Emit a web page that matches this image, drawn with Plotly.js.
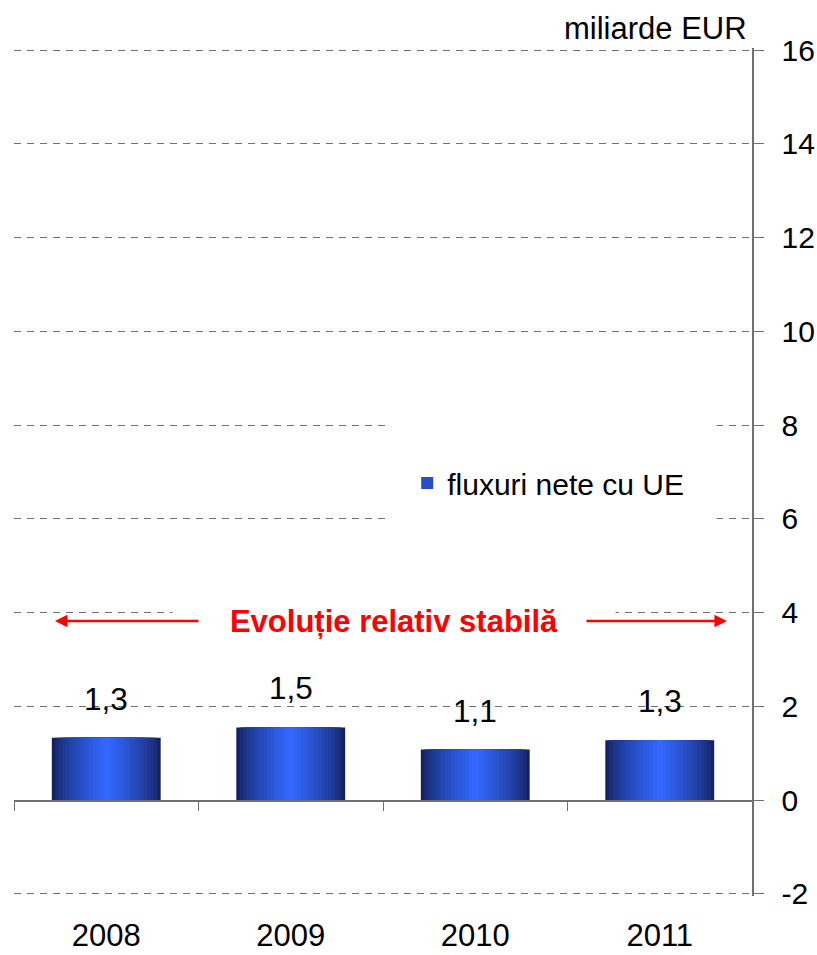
<!DOCTYPE html>
<html><head><meta charset="utf-8">
<script src="https://cdn.plot.ly/plotly-3.0.1.min.js"></script>
<style>html,body{margin:0;padding:0;background:#fff}</style>
</head><body>
<div id="chart" style="width:817px;height:955px"></div>
<script>
const years = ['2008', '2009', '2010', '2011'];
const netFlows = [1.33, 1.55, 1.08, 1.28];
const valueLabels = ['1,3', '1,5', '1,1', '1,3'];
const yTickVals = [-2, 0, 2, 4, 6, 8, 10, 12, 14, 16];
const yTickText = ['-2', '0', '2', '4', '6', '8', '10', '12', '14', '16'];
const unitLabel = 'miliarde EUR';
const seriesName = 'fluxuri nete cu UE';
const noteText = 'Evoluție relativ stabilă';

const FONT = '"Liberation Sans", Arial, sans-serif';
const GREY = '#707070';

// stepped horizontal gradient: overlay narrower, lighter bars
const N = 16, fullW = 0.59;
const dark = [20, 34, 95], bright = [50, 102, 252];
const traces = [];
for (let k = 0; k < N; k++) {
  const t = Math.pow(k / (N - 1), 0.7);
  const c = dark.map((d, i) => Math.round(d + (bright[i] - d) * t));
  traces.push({
    type: 'bar', x: years, y: netFlows,
    width: years.map(() => fullW * (1 - k / N)),
    marker: {color: `rgb(${c.join(',')})`, line: {width: 0}},
    name: seriesName,
    showlegend: k === Math.round(N * 0.5),
    hoverinfo: 'skip'
  });
}
// helper trace so the boundary-tick axis at y=0 exists
traces.push({type: 'scatter', mode: 'markers', x: years, y: netFlows, xaxis: 'x2',
  marker: {opacity: 0}, showlegend: false, hoverinfo: 'skip'});

const yMin = -2, yMax = 16, pad = 0.045;
const annotations = years.map((yr, i) => ({
  x: i, y: netFlows[i], xref: 'x', yref: 'y', text: valueLabels[i],
  showarrow: false, yshift: 39, yanchor: 'middle',
  font: {family: FONT, size: 31.5, color: '#000'}
}));
annotations.push({
  x: 1, y: 1, xref: 'paper', yref: 'paper', xanchor: 'right', yanchor: 'middle',
  xshift: -3, yshift: 20, text: unitLabel, showarrow: false,
  font: {family: FONT, size: 31, color: '#000'}
});
annotations.push({
  x: 1.56, y: 3.82, xref: 'x', yref: 'y', xanchor: 'center', yanchor: 'middle',
  text: '<b>' + noteText + '</b>', showarrow: false, bgcolor: '#fff', width: 440,
  font: {family: FONT, size: 31, color: '#ff0000'}
});
annotations.push({
  x: -0.278, y: 3.82, ax: 0.508, ay: 3.82, xref: 'x', yref: 'y', axref: 'x', ayref: 'y',
  text: '', showarrow: true, arrowhead: 2, arrowsize: 1, arrowwidth: 2.5, arrowcolor: '#ff0000'
});
annotations.push({
  x: 3.364, y: 3.82, ax: 2.595, ay: 3.82, xref: 'x', yref: 'y', axref: 'x', ayref: 'y',
  text: '', showarrow: true, arrowhead: 2, arrowsize: 1, arrowwidth: 2.5, arrowcolor: '#ff0000'
});

const layout = {
  width: 817, height: 955,
  margin: {l: 14, r: 65, t: 48, b: 59},
  paper_bgcolor: '#fff', plot_bgcolor: '#fff',
  barmode: 'overlay',
  font: {family: FONT, color: '#000'},
  showlegend: true,
  legend: {
    x: 0.503, y: 0.487, xanchor: 'left', yanchor: 'middle',
    bgcolor: 'rgba(0,0,0,0)', borderwidth: 0, indentation: 22,
    font: {family: FONT, size: 30, color: '#000'}
  },
  shapes: [{
    type: 'rect', layer: 'above', xref: 'paper', yref: 'y',
    x0: 0.503, x1: 0.952, y0: 5.9, y1: 8.1,
    fillcolor: '#fff', line: {width: 0}
  }],
  xaxis: {
    type: 'category', range: [-0.5, 3.5], showline: false, showgrid: false, zeroline: false,
    ticks: 'outside', ticklen: 12, tickcolor: 'rgba(0,0,0,0)',
    tickfont: {family: FONT, size: 31, color: '#000'}
  },
  xaxis2: {
    type: 'category', range: [-0.5, 3.5], overlaying: 'x', anchor: 'free',
    position: (0 - (yMin - pad)) / (yMax - yMin + 2 * pad), side: 'bottom',
    showline: true, linecolor: GREY, linewidth: 1.5,
    tickson: 'boundaries', ticks: 'outside', ticklen: 9, tickcolor: GREY, tickwidth: 1,
    showticklabels: false, showgrid: false, zeroline: false
  },
  yaxis: {
    side: 'right', range: [yMin - pad, yMax + pad],
    tickmode: 'array', tickvals: yTickVals, ticktext: yTickText,
    showgrid: true, gridcolor: GREY, gridwidth: 1, griddash: '7px,6px',
    showline: true, linecolor: GREY, linewidth: 1.5,
    ticks: 'outside', ticklen: 10, tickcolor: GREY, tickwidth: 1,
    ticklabelstandoff: 12,
    zeroline: false,
    tickfont: {family: FONT, size: 30, color: '#000'}
  },
  annotations: annotations
};

Plotly.newPlot('chart', traces, layout, {displayModeBar: false, staticPlot: true});
</script>
</body></html>
